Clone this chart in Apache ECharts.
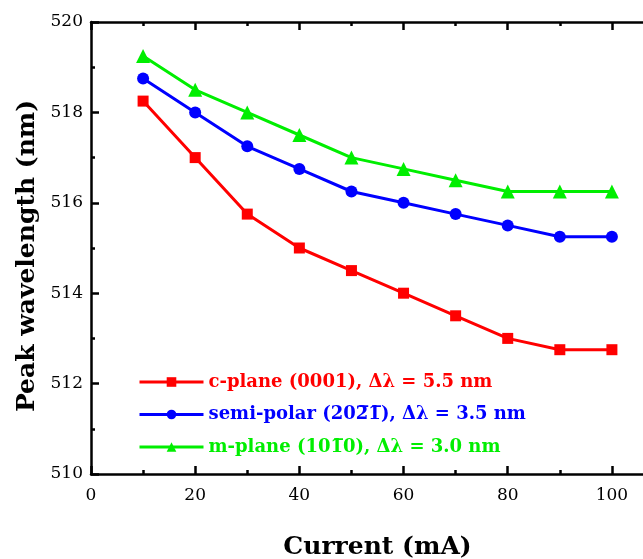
<!DOCTYPE html>
<html>
<head>
<meta charset="utf-8">
<script src="https://cdn.jsdelivr.net/npm/echarts@6/dist/echarts.min.js"></script>
<style>
  html, body { margin: 0; padding: 0; background: #fff; }
  #chart { width: 643px; height: 559px; }
</style>
</head>
<body>
<div id="chart"></div>
<script>
// Drive current (mA)
const currents = [10, 20, 30, 40, 50, 60, 70, 80, 90, 100];

// Peak emission wavelength (nm) for each crystal orientation
const cPlane = [518.25, 517.0, 515.75, 515.0, 514.5, 514.0, 513.5, 513.0, 512.75, 512.75];
const semiPolar = [518.75, 518.0, 517.25, 516.75, 516.25, 516.0, 515.75, 515.5, 515.25, 515.25];
const mPlane = [519.25, 518.5, 518.0, 517.5, 517.0, 516.75, 516.5, 516.25, 516.25, 516.25];

const seriesNames = [
  'c-plane (0001), \u0394\u03BB = 5.5 nm',
  'semi-polar (202\u03051\u0305), \u0394\u03BB = 3.5 nm',
  'm-plane (101\u03050), \u0394\u03BB = 3.0 nm'
];

const FONT = '"DejaVu Serif", "Liberation Serif", serif';

const pairs = (ys) => currents.map((x, i) => [x, ys[i]]);

const chart = echarts.init(document.getElementById('chart'), null, { renderer: 'canvas' });

const axisLine = { show: true, lineStyle: { color: '#000', width: 2.5 } };
const majorTick = { show: true, inside: true, length: 8, lineStyle: { width: 2.5, color: '#000' } };
const minorTick = { show: true, splitNumber: 2, length: 4, lineStyle: { width: 2.5, color: '#000' } };

function makeSeries(name, data, color, symbol, size) {
  return {
    name: name,
    type: 'line',
    data: pairs(data),
    symbol: symbol,
    symbolSize: size,
    showSymbol: true,
    lineStyle: { color: color, width: 3 },
    itemStyle: { color: color },
    emphasis: { disabled: true },
    animation: false,
    z: 3
  };
}

chart.setOption({
  backgroundColor: '#fff',
  animation: false,
  grid: { left: 91, top: 22, width: 573, height: 452, containLabel: false, outerBoundsMode: 'none' },
  legend: {
    left: 133,
    top: 367,
    orient: 'vertical',
    itemWidth: 64,
    itemHeight: 12,
    itemGap: 12.5,
    lineStyle: { width: 3 },
    textStyle: { fontFamily: FONT, fontWeight: 'bold', fontSize: 18, lineHeight: 20 },
    data: [
      { name: seriesNames[0], textStyle: { color: '#ff0000' } },
      { name: seriesNames[1], textStyle: { color: '#0000ff' } },
      { name: seriesNames[2], textStyle: { color: '#00ee00' } }
    ]
  },
  xAxis: [
    {
      type: 'value',
      min: 0, max: 110, interval: 20,
      position: 'bottom',
      name: 'Current (mA)',
      nameLocation: 'middle',
      nameGap: 61,
      nameTextStyle: { fontFamily: FONT, fontWeight: 'bold', fontSize: 25, color: '#000' },
      axisLine: axisLine,
      axisTick: majorTick,
      minorTick: minorTick,
      axisLabel: { fontFamily: FONT, fontSize: 17, color: '#000', margin: 13, showMaxLabel: false },
      splitLine: { show: false }
    },
    {
      type: 'value',
      min: 0, max: 110, interval: 20,
      position: 'top',
      axisLine: axisLine,
      axisTick: majorTick,
      minorTick: minorTick,
      axisLabel: { show: false },
      splitLine: { show: false }
    }
  ],
  yAxis: [
    {
      type: 'value',
      min: 510, max: 520, interval: 2,
      position: 'left',
      name: 'Peak wavelength (nm)',
      nameLocation: 'middle',
      nameGap: 50,
      nameTextStyle: { fontFamily: FONT, fontWeight: 'bold', fontSize: 25, color: '#000', padding: [0, 16, 0, 0] },
      axisLine: axisLine,
      axisTick: majorTick,
      minorTick: minorTick,
      axisLabel: { fontFamily: FONT, fontSize: 17, color: '#000', margin: 8 },
      splitLine: { show: false }
    }
  ],
  series: [
    makeSeries(seriesNames[0], cPlane, '#ff0000', 'rect', 11),
    makeSeries(seriesNames[1], semiPolar, '#0000ff', 'circle', 12),
    makeSeries(seriesNames[2], mPlane, '#00ee00', 'triangle', 14)
  ]
});
</script>
</body>
</html>
